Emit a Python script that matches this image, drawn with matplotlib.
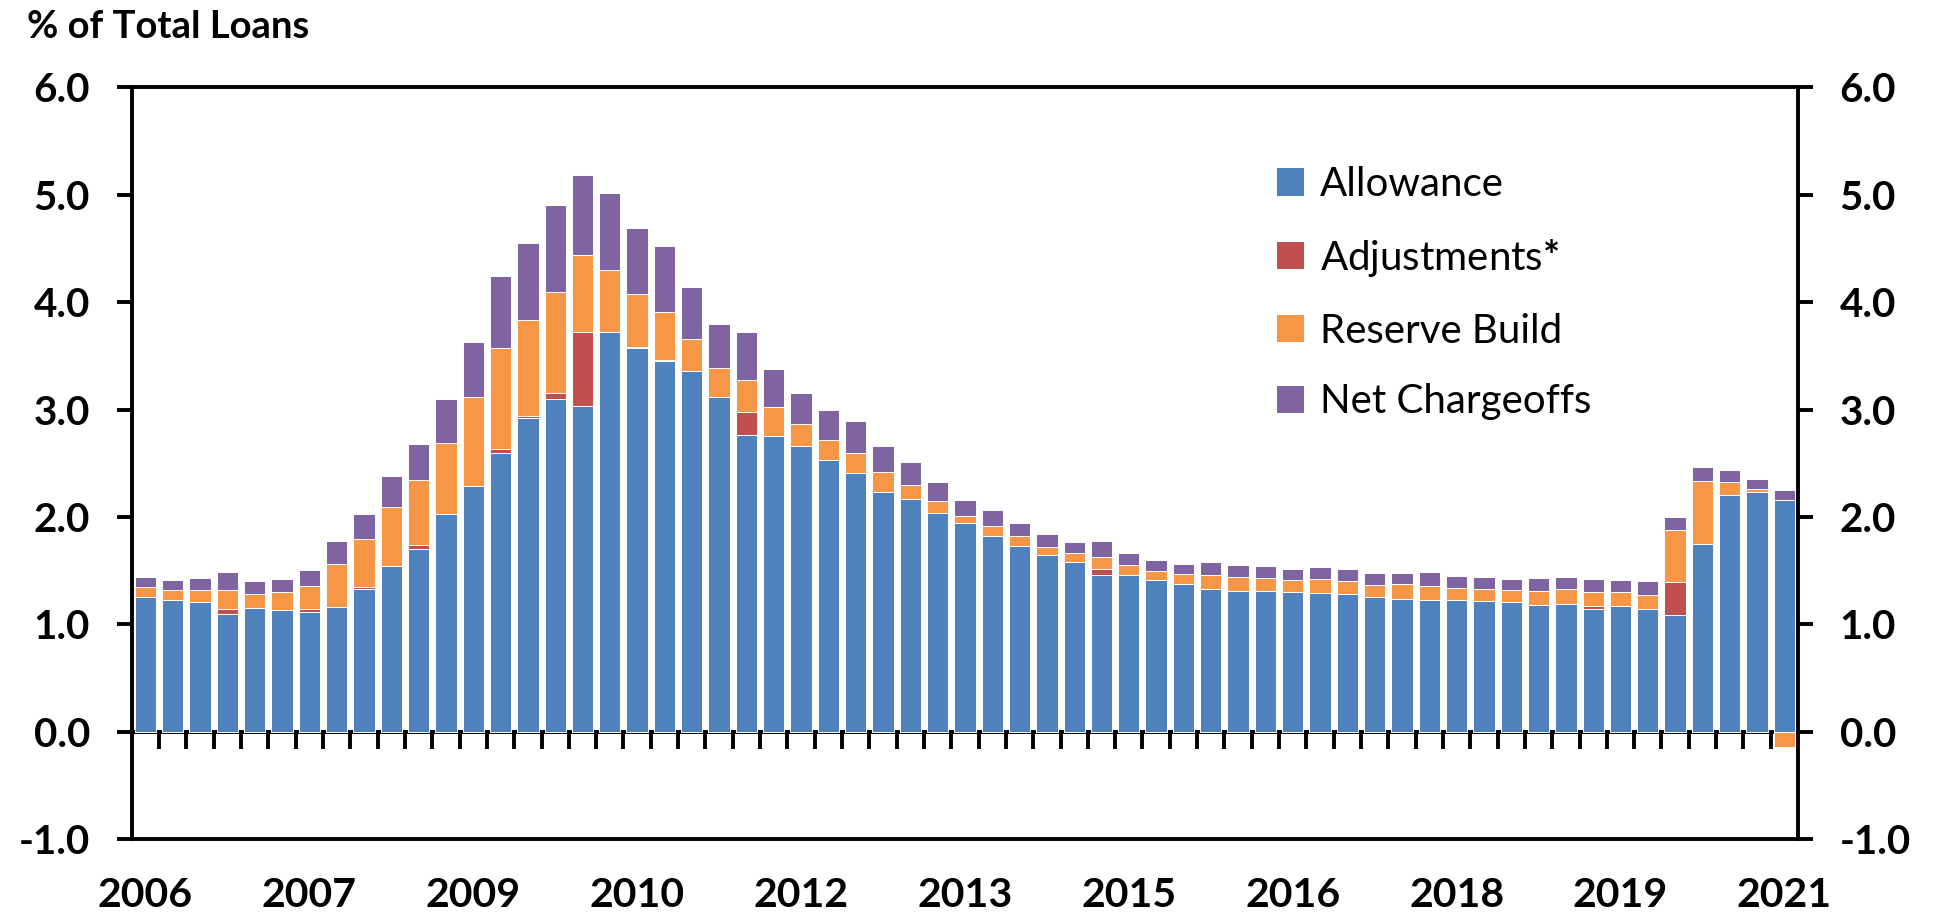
"""Allowance / adjustments / reserve build / net chargeoffs, stacked quarterly bars."""
from __future__ import annotations

import matplotlib

matplotlib.use("Agg")
import matplotlib.pyplot as plt
import numpy as np

plt.rcParams["font.family"] = ["Lato", "DejaVu Sans"]
plt.rcParams["mathtext.fontset"] = "custom"
plt.rcParams["mathtext.rm"] = "Lato"
plt.rcParams["mathtext.bf"] = "Lato:bold"

# 2006Q1 .. 2021Q1, % of total loans
allowance = [
	1.25, 1.226, 1.204, 1.094, 1.154, 1.132, 1.119, 1.16, 1.33, 1.547,
	1.70, 2.025, 2.29, 2.60, 2.92, 3.10, 3.03, 3.72, 3.57, 3.455,
	3.36, 3.12, 2.76, 2.755, 2.665, 2.53, 2.41, 2.23, 2.165, 2.04,
	1.945, 1.825, 1.73, 1.645, 1.58, 1.46, 1.46, 1.41, 1.375, 1.33,
	1.31, 1.31, 1.30, 1.29, 1.28, 1.25, 1.24, 1.23, 1.225, 1.215,
	1.205, 1.18, 1.19, 1.14, 1.17, 1.14, 1.09, 1.75, 2.20, 2.23,
	2.16,
]
adjustments = [
	0, 0, 0, 0.05, 0, 0, 0.02, 0, 0.016, 0,
	0.035, 0, 0, 0.033, 0.02, 0.055, 0.69, 0, 0.015, 0.01,
	0, 0, 0.215, 0, 0, 0, 0, 0, 0, 0,
	0, 0, 0, 0, 0, 0.054, 0, 0, 0, 0,
	0, 0, 0, 0, 0, 0, 0, 0, 0, 0,
	0, 0, 0, 0.034, 0, 0, 0.30, 0, 0, 0,
	0,
]
reserve_build = [
	0.096, 0.098, 0.12, 0.179, 0.132, 0.167, 0.217, 0.406, 0.45, 0.544,
	0.607, 0.66, 0.83, 0.938, 0.896, 0.942, 0.721, 0.58, 0.488, 0.448,
	0.296, 0.265, 0.298, 0.265, 0.201, 0.19, 0.187, 0.193, 0.136, 0.104,
	0.066, 0.086, 0.09, 0.077, 0.085, 0.115, 0.097, 0.09, 0.091, 0.131,
	0.135, 0.122, 0.115, 0.128, 0.123, 0.119, 0.131, 0.125, 0.116, 0.118,
	0.113, 0.134, 0.135, 0.128, 0.128, 0.137, 0.484, 0.581, 0.128, 0.028,
	-0.147,
]
net_chargeoffs = [
	0.091, 0.091, 0.107, 0.167, 0.12, 0.119, 0.148, 0.208, 0.235, 0.295,
	0.34, 0.41, 0.51, 0.674, 0.72, 0.813, 0.746, 0.714, 0.619, 0.606,
	0.484, 0.409, 0.448, 0.355, 0.29, 0.272, 0.301, 0.24, 0.212, 0.183,
	0.146, 0.15, 0.125, 0.122, 0.106, 0.15, 0.103, 0.097, 0.10, 0.116,
	0.112, 0.107, 0.103, 0.118, 0.113, 0.109, 0.106, 0.128, 0.112, 0.11,
	0.103, 0.115, 0.115, 0.122, 0.117, 0.125, 0.125, 0.138, 0.11, 0.10,
	0.088,
]
year_labels = ["2006", "2007", "2009", "2010", "2012", "2013",
	"2015", "2016", "2018", "2019", "2021"]
series_names = ["Allowance", r"Adjustments$\mathbf{*}$", "Reserve Build", "Net Chargeoffs"]
colors = ["#4F81BD", "#C0504D", "#F79646", "#8064A2"]


def main() -> None:
	fig = plt.figure(figsize=(19.38, 9.21), dpi=100)
	ax = fig.add_axes([0.068, 0.089, 0.8598, 0.816])

	n = len(allowance)
	x = np.arange(n)
	pos_base = np.zeros(n)
	neg_base = np.zeros(n)
	handles = []
	for vals, name, color in zip(
		[allowance, adjustments, reserve_build, net_chargeoffs], series_names, colors
	):
		v = np.asarray(vals, dtype=float)
		bottom = np.where(v >= 0, pos_base, neg_base)
		h = ax.bar(x, v, bottom=bottom, width=0.78, color=color,
			edgecolor="white", linewidth=0.7, label=name)
		handles.append(h)
		pos_base += np.clip(v, 0, None)
		neg_base += np.clip(v, None, 0)

	ymin, ymax = -1.0, 6.0
	ax.set_ylim(ymin, ymax)
	ax.set_xlim(-0.5, n - 0.5)
	ax.set_yticks(np.arange(-1, 7, 1))
	ax.yaxis.set_major_formatter(matplotlib.ticker.FormatStrFormatter("%.1f"))
	ax.tick_params(axis="y", which="both", direction="out", length=11, width=2.8,
		labelsize=29, pad=19, left=True, right=True, labelleft=True, labelright=True)
	for lab in ax.get_yticklabels():
		lab.set_fontweight("bold")

	# year labels under the plot box
	ax.set_xticks(x[::6])
	ax.set_xticklabels(year_labels, fontsize=29.5, fontweight="bold")
	ax.tick_params(axis="x", length=0, pad=27)

	for sp in ax.spines.values():
		sp.set_linewidth(2.8)

	# zero line with category boundary ticks
	zero = ax.secondary_xaxis((0 - ymin) / (ymax - ymin))
	zero.set_xticks(np.arange(0.5, n - 1, 1))
	zero.tick_params(direction="out", length=12, width=2.8, labelbottom=False)
	zero.spines["bottom"].set_linewidth(2.8)

	leg = ax.legend(handles=handles, loc="upper left",
		bbox_to_anchor=(1277 / 1938, 1 - 166 / 921), bbox_transform=fig.transFigure,
		frameon=False, fontsize=29, handlelength=0.67, handleheight=0.67,
		handletextpad=0.4, labelspacing=0.84, borderpad=0, borderaxespad=0)
	for p in leg.get_patches():
		p.set_edgecolor("none")

	fig.text(27 / 1938, 1 - 27 / 921, "% of Total Loans", fontsize=27.5,
		fontweight="bold", va="center", ha="left")

	fig.savefig("out.png", dpi=100)


if __name__ == "__main__":
	main()
